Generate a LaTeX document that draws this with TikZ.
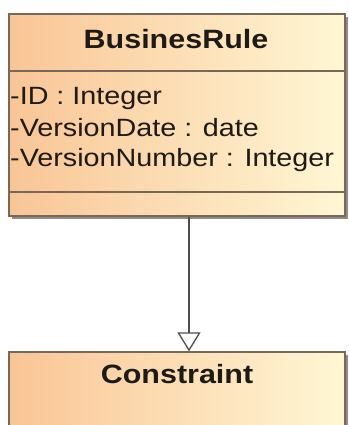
\documentclass[tikz,border=0pt]{standalone}
\usepackage{fontspec}
\usetikzlibrary{arrows.meta}
\newfontfamily\umlfont[FakeStretch=1.15]{Liberation Sans}
\definecolor{classleft}{HTML}{F9C596}
\definecolor{classright}{HTML}{FFF7D4}
\definecolor{classline}{HTML}{77685A}
\definecolor{shadowgray}{HTML}{8E8C88}
\definecolor{inkdark}{HTML}{1E1A16}
\definecolor{linkgray}{HTML}{4E4E4E}
\tikzset{
  classbox/.style={rectangle, draw=classline, line width=1.2pt,
    left color=classleft, right color=classright, shading angle=90,
    inner sep=0pt, minimum width=336pt},
  boxshadow/.style={fill=shadowgray},
  divider/.style={draw=classline, line width=1.2pt},
  classname/.style={font=\umlfont\bfseries\fontsize{26.5}{30}\selectfont,
    text=inkdark, inner sep=0pt, anchor=base},
  attr/.style={font=\umlfont\fontsize{25}{30}\selectfont,
    text=inkdark, inner sep=0pt, anchor=base west},
  generalization/.style={draw=linkgray, line width=1.3pt,
    -{Triangle[open, width=23pt, length=19pt, line width=1.3pt]}}
}
\begin{document}
\begin{tikzpicture}[x=1pt, y=-1pt]
  \useasboundingbox (0,0) rectangle (348,425);
  % drop shadows of the two class boxes
  \fill[boxshadow] (12,17) rectangle (348,219);
  \fill[boxshadow] (12,355) rectangle (348,445);
  % class BusinesRule
  \node[classbox, minimum height=202pt] (rule) at (177,115) {};
  \draw[divider] (9,71) -- (345,71);
  \draw[divider] (9,192) -- (345,192);
  \node[classname] (ruletitle) at (176,49) {BusinesRule};
  \node[attr] (aid) at (10,105) {-ID : Integer};
  \node[attr] (adate) at (10,136) {-VersionDate : date};
  \node[attr] (anum) at (10,166) {-VersionNumber : Integer};
  % class Constraint
  \node[classbox, minimum height=90pt] (constraint) at (177,397) {};
  \node[classname] (constrainttitle) at (177,383) {Constraint};
  % generalization arrow
  \coordinate (linkx) at (189,0);
  \draw[generalization] (rule.south -| linkx) -- (constraint.north -| linkx);
\end{tikzpicture}
\end{document}
